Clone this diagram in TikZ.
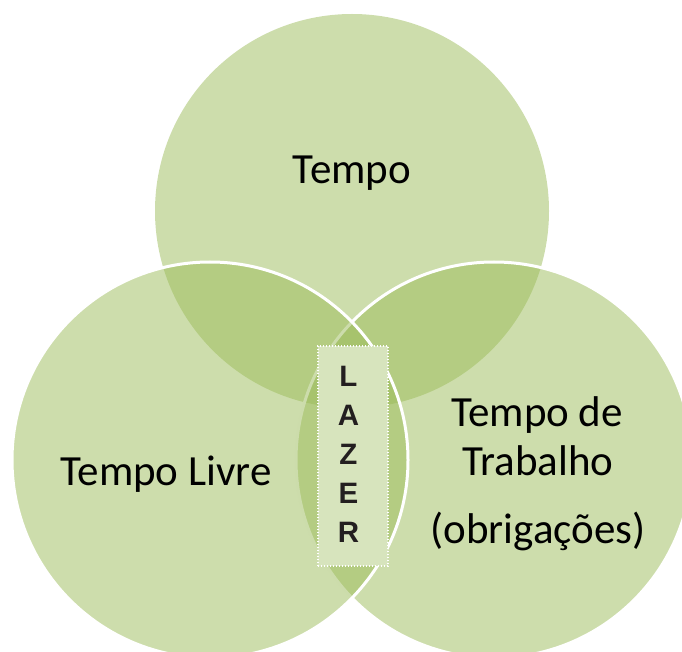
\documentclass[tikz,border=0pt]{standalone}
\usepackage{fontspec}
\setmainfont{Carlito}
\newfontfamily\lazerfont{Liberation Sans}
\definecolor{venngreen}{HTML}{9BBB59}
\definecolor{lazerfill}{HTML}{D7E4BD}
\definecolor{lazerink}{HTML}{231F20}
\begin{document}
\begin{tikzpicture}[x=1pt,y=1pt,
    venn/.style={fill=venngreen,fill opacity=0.5},
    vennedge/.style={venn,draw=white,line width=3pt},
    label/.style={anchor=base,font=\fontsize{43}{52}\selectfont,text=black,inner sep=0pt}]
      \clip (0,0) rectangle (682,651);
      % circles: top first, then right, then left on top
      \fill[venn] (352,440) circle (197);
      \filldraw[vennedge] (494,191) circle (198);
      \filldraw[vennedge] (210,191) circle (198);
      % texts
      \draw
        (352,467.7) node[label] (tempo){Tempo}
        (166,166) node[label] (livre){Tempo Livre}
        (537,224.3) node[label] (trabalho1){Tempo de}
        (538,175.3) node[label] (trabalho2){Trabalho}
        (538,107.7) node[label] (obrigacoes){(obrigações)};
      % the box in the middle
      \node[fill=lazerfill,draw=white,line width=1.4pt,dash pattern=on 1.4pt off 1.6pt,
            minimum width=70,minimum height=220,inner sep=0pt] (lazerbox) at (353,195) {};
      \node[align=center,font=\lazerfont\bfseries\fontsize{29.5}{39}\selectfont,text=lazerink,
            inner sep=0pt] (lazer) at (348.5,197) {L\\A\\Z\\E\\R};
    \end{tikzpicture}
\end{document}
